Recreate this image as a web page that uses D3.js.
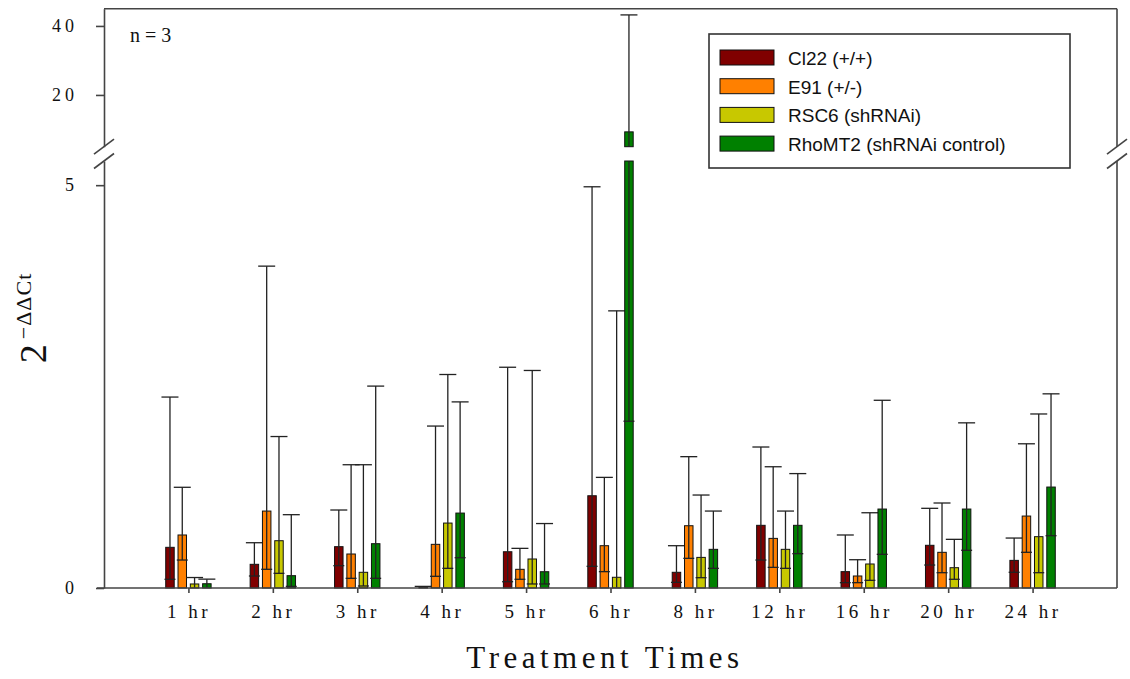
<!DOCTYPE html>
<html lang="en">
<head>
<meta charset="utf-8">
<title>Treatment Times</title>
<style>
  body { margin: 0; background: #fff; }
  svg { display: block; }
  .tick text { font-family: "Liberation Serif", "Times New Roman", serif; }
</style>
</head>
<body>
<div id="chart"></div>
<script src="https://d3js.org/d3.v7.min.js"></script>
<script>
// data (2^-ddCt, mean with lower / upper error limits)
var times = ["1 hr", "2 hr", "3 hr", "4 hr", "5 hr", "6 hr", "8 hr", "12 hr", "16 hr", "20 hr", "24 hr"];
var seriesNames = ["Cl22 (+/+)", "E91 (+/-)", "RSC6 (shRNAi)", "RhoMT2 (shRNAi control)"];
var seriesColors = ["#800000", "#ff8000", "#c8c800", "#008000"];

var cl22Mean = [0.505, 0.294, 0.513, 0.012, 0.45, 1.145, 0.195, 0.778, 0.203, 0.53, 0.343];
var cl22Low  = [0.108, 0.149, 0.277, 0.0, 0.078, 0.269, 0.07, 0.347, 0.066, 0.285, 0.195];
var cl22High = [2.37, 0.562, 0.968, 0.02, 2.74, 4.98, 0.525, 1.75, 0.658, 0.989, 0.62];

var e91Mean = [0.658, 0.955, 0.422, 0.542, 0.232, 0.525, 0.773, 0.616, 0.149, 0.443, 0.893];
var e91Low  = [0.347, 0.232, 0.12, 0.145, 0.108, 0.203, 0.368, 0.256, 0.066, 0.19, 0.443];
var e91High = [1.25, 3.995, 1.53, 2.01, 0.492, 1.373, 1.63, 1.505, 0.351, 1.055, 1.79];

var rsc6Mean = [0.05, 0.587, 0.195, 0.806, 0.36, 0.133, 0.38, 0.48, 0.298, 0.252, 0.637];
var rsc6Low  = [0.0, 0.182, 0.025, 0.244, 0.05, 0.0, 0.128, 0.244, 0.095, 0.108, 0.19];
var rsc6High = [0.13, 1.88, 1.53, 2.65, 2.70, 3.44, 1.154, 0.955, 0.934, 0.604, 2.16];

var rhoMean = [0.053, 0.153, 0.55, 0.93, 0.202, 9.3, 0.48, 0.778, 0.98, 0.98, 1.253];
var rhoLow  = [0.0, 0.02, 0.12, 0.376, 0.05, 2.07, 0.244, 0.426, 0.418, 0.468, 0.649];
var rhoHigh = [0.11, 0.91, 2.506, 2.31, 0.80, 43.2, 0.955, 1.42, 2.33, 2.05, 2.41];

var lowerTicks = [0, 5];
var upperTicks = [20, 40];

var means = [cl22Mean, e91Mean, rsc6Mean, rhoMean];
var lows = [cl22Low, e91Low, rsc6Low, rhoLow];
var highs = [cl22High, e91High, rsc6High, rhoHigh];

var width = 1130, height = 679;
var plotLeft = 104, plotRight = 1117, plotBottom = 588, plotTop = 8.7;

var svg = d3.select("#chart").append("svg")
    .attr("width", width)
    .attr("height", height);

var x = d3.scalePoint().domain(times).range([plotLeft, plotRight]).padding(1);
var xs = d3.scaleBand().domain(seriesNames).range([-24.6, 24.6])
    .paddingInner(0.31).paddingOuter(0.155);

// broken y axis: two segments
var yLow = d3.scaleLinear().domain([0, 5.3]).range([plotBottom, 161]);
var yHigh = d3.scaleLinear().domain([5, 45]).range([146.7, plotTop]);

var rows = [];
times.forEach(function(t, i) {
  seriesNames.forEach(function(s, j) {
    rows.push({time: t, name: s, color: seriesColors[j],
               mean: means[j][i], low: lows[j][i], high: highs[j][i]});
  });
});

function drawSegment(y) {
  var lo = y.domain()[0], hi = y.domain()[1];
  var g = svg.append("g");
  rows.forEach(function(d) {
    var cx = x(d.time) + xs(d.name) + xs.bandwidth() / 2;
    var bx = x(d.time) + xs(d.name);
    if (d.mean > lo) {
      var top1 = Math.min(d.mean, hi);
      g.append("rect")
        .attr("x", bx).attr("width", xs.bandwidth())
        .attr("y", y(top1)).attr("height", y(lo) - y(top1))
        .attr("fill", d.color).attr("stroke", "#111").attr("stroke-width", 1);
    }
    var a = Math.max(d.low, lo), b = Math.min(d.high, hi);
    if (b > a) {
      g.append("line")
        .attr("x1", cx).attr("x2", cx).attr("y1", y(a)).attr("y2", y(b))
        .attr("stroke", "#222").attr("stroke-width", 1.3);
    }
    if (d.high >= lo && d.high <= hi) {
      g.append("line")
        .attr("x1", cx - 8.5).attr("x2", cx + 8.5)
        .attr("y1", y(d.high)).attr("y2", y(d.high))
        .attr("stroke", "#222").attr("stroke-width", 1.3);
    }
    if (d.low > lo && d.low <= hi) {
      g.append("line")
        .attr("x1", cx - 5.5).attr("x2", cx + 5.5)
        .attr("y1", y(d.low)).attr("y2", y(d.low))
        .attr("stroke", "#222").attr("stroke-width", 1.3);
    }
  });
}
drawSegment(yLow);
drawSegment(yHigh);

// frame
var frame = svg.append("g").attr("stroke", "#444").attr("stroke-width", 1.6).attr("fill", "none");
frame.append("line").attr("x1", plotLeft).attr("x2", plotRight).attr("y1", plotTop).attr("y2", plotTop);
frame.append("line").attr("x1", plotRight).attr("x2", plotRight).attr("y1", plotTop).attr("y2", yHigh(5));
frame.append("line").attr("x1", plotRight).attr("x2", plotRight).attr("y1", yLow(5.3)).attr("y2", plotBottom);
frame.append("line").attr("x1", plotLeft - 7).attr("x2", plotRight).attr("y1", plotBottom).attr("y2", plotBottom);

[plotLeft, plotRight].forEach(function(px) {
  [yHigh(5), yLow(5.3)].forEach(function(py) {
    frame.append("line")
      .attr("x1", px - 10).attr("y1", py + 7.5)
      .attr("x2", px + 10).attr("y2", py - 7.5);
  });
});

function styleAxis(g) {
  g.select(".domain").attr("stroke", "#444").attr("stroke-width", 1.6);
  g.selectAll(".tick line").attr("stroke", "#444").attr("stroke-width", 1.6);
  g.selectAll(".tick text")
    .attr("font-size", 18).attr("fill", "#111")
    .style("letter-spacing", "4px");
}

svg.append("g").attr("transform", "translate(" + plotLeft + ",0)")
  .call(d3.axisLeft(yLow).tickValues(lowerTicks).tickFormat(d3.format("d"))
        .tickSize(8).tickSizeOuter(0).tickPadding(18))
  .call(styleAxis);
svg.append("g").attr("transform", "translate(" + plotLeft + ",0)")
  .call(d3.axisLeft(yHigh).tickValues(upperTicks).tickFormat(d3.format("d"))
        .tickSize(8).tickSizeOuter(0).tickPadding(18))
  .call(styleAxis);

var xAxis = svg.append("g").attr("transform", "translate(0," + plotBottom + ")")
  .call(d3.axisBottom(x).tickSize(5).tickSizeOuter(0).tickPadding(12))
  .call(styleAxis);
xAxis.select(".domain").remove();
xAxis.selectAll(".tick text").attr("font-size", 19).style("letter-spacing", "3.5px");

// axis titles
svg.append("text")
  .attr("x", 605).attr("y", 668)
  .attr("text-anchor", "middle")
  .attr("font-family", "Liberation Serif, Times New Roman, serif")
  .attr("font-size", 31).style("letter-spacing", "4.5px")
  .attr("fill", "#111")
  .text("Treatment Times");

var ylab = svg.append("text")
  .attr("transform", "translate(46,318) rotate(-90)")
  .attr("text-anchor", "middle")
  .attr("font-family", "Liberation Serif, Times New Roman, serif")
  .attr("fill", "#111");
ylab.append("tspan").attr("font-size", 38).text("2");
ylab.append("tspan").attr("font-size", 22).attr("dy", -15).attr("dx", 5)
  .style("letter-spacing", "1px").text("\u2212\u0394\u0394Ct");

svg.append("text")
  .attr("x", 130).attr("y", 42)
  .attr("font-family", "Liberation Serif, Times New Roman, serif")
  .attr("font-size", 20).attr("fill", "#111")
  .text("n = 3");

// legend
var legend = svg.append("g");
legend.append("rect")
  .attr("x", 709).attr("y", 34).attr("width", 361).attr("height", 134)
  .attr("fill", "#fff").attr("stroke", "#333").attr("stroke-width", 1.6);
seriesNames.forEach(function(s, j) {
  var ry = 50 + j * 28.7;
  legend.append("rect")
    .attr("x", 720).attr("y", ry).attr("width", 54).attr("height", 15)
    .attr("fill", seriesColors[j]).attr("stroke", "#111").attr("stroke-width", 1);
  legend.append("text")
    .attr("x", 788).attr("y", ry + 15)
    .attr("font-family", "Liberation Sans, Arial, sans-serif")
    .attr("font-size", 19).attr("fill", "#111")
    .text(s);
});
</script>
</body>
</html>
